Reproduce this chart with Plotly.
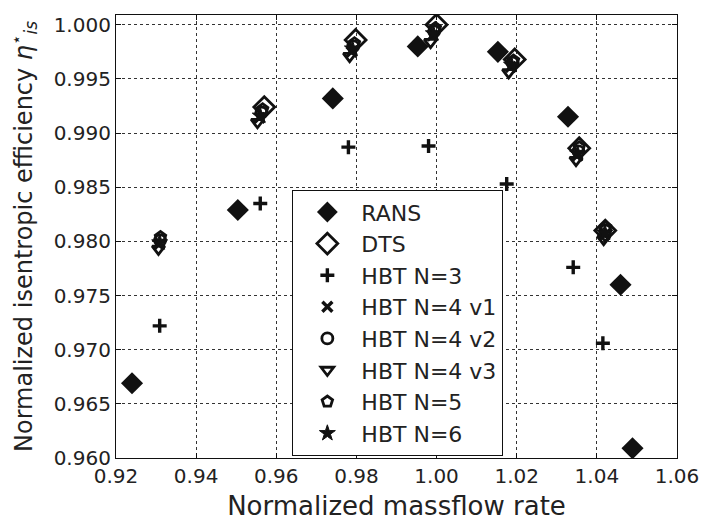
import plotly.graph_objects as go

# ---- data ----
rans_x = [0.9240, 0.9504, 0.9741, 0.9953, 1.0153, 1.0328, 1.0459, 1.0489]
rans_y = [0.9669, 0.9829, 0.9932, 0.9980, 0.9975, 0.9915, 0.9760, 0.9609]

dts_x = [0.9570, 0.9798, 1.0000, 1.0195, 1.0356, 1.0421]
dts_y = [0.9924, 0.9986, 1.0000, 0.9968, 0.9886, 0.9810]

n3_x = [0.9309, 0.9560, 0.9780, 0.9980, 1.0175, 1.0341, 1.0415]
n3_y = [0.9722, 0.9835, 0.9887, 0.9888, 0.9853, 0.9776, 0.9706]

n4v1_x = [0.9307, 0.9558, 0.9788, 0.9990, 1.0185, 1.0351, 1.0419]
n4v1_y = [0.9797, 0.9914, 0.9975, 0.9990, 0.9961, 0.9879, 0.9806]

n4v2_x = [0.9310, 0.9563, 0.9792, 0.9994, 1.0189, 1.0354, 1.0421]
n4v2_y = [0.9801, 0.9919, 0.9980, 0.9994, 0.9965, 0.9883, 0.9810]

n4v3_x = [0.9306, 0.9553, 0.9783, 0.9985, 1.0180, 1.0348, 1.0417]
n4v3_y = [0.9793, 0.9910, 0.9971, 0.9984, 0.9956, 0.9875, 0.9802]

n5_x = [0.9311, 0.9566, 0.9795, 0.9997, 1.0192, 1.0356, 1.0422]
n5_y = [0.9804, 0.9922, 0.9983, 0.9997, 0.9967, 0.9887, 0.9813]

n6_x = [0.9309, 0.9560, 0.9790, 0.9992, 1.0187, 1.0352, 1.0420]
n6_y = [0.9799, 0.9916, 0.9978, 0.9992, 0.9963, 0.9881, 0.9808]

x_ticks = [0.92, 0.94, 0.96, 0.98, 1.00, 1.02, 1.04, 1.06]
y_ticks = [0.960, 0.965, 0.970, 0.975, 0.980, 0.985, 0.990, 0.995, 1.000]

FONT = "DejaVu Sans"
BLACK = "#111111"

series = [
    ("RANS", rans_x, rans_y, "diamond", 17, 0),
    ("DTS", dts_x, dts_y, "diamond-open", 16, 2.8),
    ("HBT N=3", n3_x, n3_y, "cross-thin-open", 10, 3.4),
    ("HBT N=4 v1", n4v1_x, n4v1_y, "x-thin-open", 10, 3.4),
    ("HBT N=4 v2", n4v2_x, n4v2_y, "circle-open", 11, 2.8),
    ("HBT N=4 v3", n4v3_x, n4v3_y, "triangle-down-open", 11, 2.8),
    ("HBT N=5", n5_x, n5_y, "pentagon-open", 11, 2.8),
    ("HBT N=6", n6_x, n6_y, "star", 12, 1),
]

fig = go.Figure()
for i, (name, xs, ys, sym, size, lw) in enumerate(series):
    fig.add_trace(go.Scatter(
        x=xs, y=ys, mode="markers", name=name, legendgroup=f"g{i}",
        marker=dict(symbol=sym, size=size, color=BLACK,
                    line=dict(color=BLACK, width=lw)),
    ))

axis_common = dict(
    showline=True, linecolor=BLACK, linewidth=1.2, mirror="ticks",
    ticks="inside", ticklen=5, tickcolor=BLACK,
    showgrid=True, gridcolor="#333333", griddash="dot", gridwidth=1,
    zeroline=False,
    tickfont=dict(family=FONT, size=20, color="#222222"),
)

fig.update_layout(
    width=711, height=529,
    margin=dict(l=116, r=28, t=15, b=71),
    paper_bgcolor="white", plot_bgcolor="white",
    font=dict(family=FONT, color="#222222"),
    xaxis=dict(range=[0.92, 1.06], tickvals=x_ticks, tickformat=".2f",
               title=dict(text="Normalized massflow rate",
                          font=dict(family=FONT, size=26), standoff=9),
               **axis_common),
    yaxis=dict(range=[0.960, 1.0009], tickvals=y_ticks, tickformat=".3f",
               title=dict(text="Normalized isentropic efficiency <i>η</i><sup>⋆</sup><sub><i>is</i></sub>",
                          font=dict(family=FONT, size=24), standoff=14),
               **axis_common),
    legend=dict(x=0.314, y=0.605, xanchor="left", yanchor="top",
                bgcolor="white", bordercolor=BLACK, borderwidth=1.2,
                font=dict(family=FONT, size=22, color="#222222"),
                itemwidth=58, tracegroupgap=4, traceorder="normal"),
    showlegend=True,
)

fig.write_html("out.html")
